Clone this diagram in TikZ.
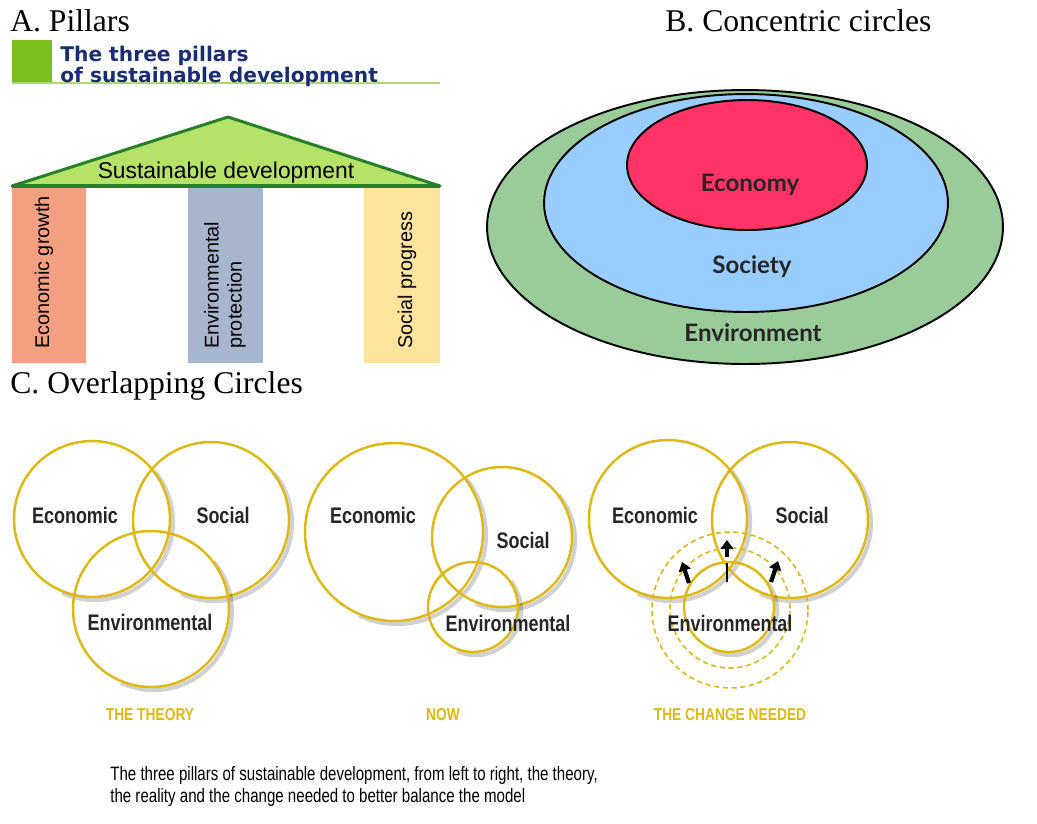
\documentclass[tikz,border=0pt]{standalone}
\usepackage{fontspec}
\setmainfont{Liberation Serif}
\newfontfamily\arialfont{Liberation Sans}
\newfontfamily\narrowfont[FakeStretch=0.8]{Liberation Sans}
\newfontfamily\captfont[FakeStretch=0.78]{Liberation Sans}
\newfontfamily\titlefont{DejaVu Sans}
\newfontfamily\latofont{Lato}
\usetikzlibrary{arrows.meta,positioning}

\definecolor{ringgold}{RGB}{222,184,20}
\definecolor{titlenavy}{RGB}{25,45,115}
\definecolor{titlegreen}{RGB}{122,190,30}
\definecolor{lightline}{RGB}{175,218,115}
\definecolor{rooffill}{RGB}{182,226,104}
\definecolor{roofedge}{RGB}{38,128,42}
\definecolor{econpillar}{RGB}{243,160,130}
\definecolor{envpillar}{RGB}{168,181,206}
\definecolor{socpillar}{RGB}{253,228,156}
\definecolor{envgreen}{RGB}{153,204,153}
\definecolor{socblue}{RGB}{153,204,255}
\definecolor{econred}{RGB}{255,51,102}

\begin{document}
\begin{tikzpicture}[x=0.02cm,y=-0.02cm,
	heading/.style={anchor=base west,inner sep=0pt,font=\fontsize{18}{20}\selectfont},
	titleblock/.style={anchor=north west,align=left,inner sep=0pt,text=titlenavy,font=\titlefont\bfseries\fontsize{11.5}{10.8}\selectfont},
	pillartext/.style={rotate=90,anchor=west,align=left,inner sep=0pt,font=\arialfont\fontsize{11.3}{13}\selectfont},
	ovaltext/.style={inner sep=0pt,font=\latofont\bfseries\fontsize{13.7}{15}\selectfont,text=black!85},
	ring/.style={draw=ringgold,line width=1.4pt},
	dashring/.style={draw=ringgold,line width=0.9pt,dash pattern=on 3pt off 2pt},
	ringshadow/.style={draw=black,opacity=0.18,line width=2.4pt},
	venntext/.style={inner sep=0pt,font=\narrowfont\bfseries\fontsize{12.8}{14}\selectfont,text=black!85},
	venntitle/.style={inner sep=0pt,font=\narrowfont\bfseries\fontsize{9.8}{11}\selectfont,text=ringgold},
	captline/.style={anchor=base west,inner sep=0pt,font=\captfont\fontsize{11}{13}\selectfont},
	blockarrow/.style={line width=2.4pt,-{Triangle[length=5pt,width=7pt]}}
	]
	\useasboundingbox (0,0) rectangle (1037,823);

	% headings
	\node[heading] (headA) at (10,31) {A. Pillars};
	\node[heading] (headB) at (665,31) {B. Concentric circles};
	\node[heading] (headC) at (10,393) {C. Overlapping Circles};

	% A: pillars
	\fill[titlegreen] (12,40) rectangle (52,83);
	\draw[lightline,line width=1.2pt] (12,83) -- (440,83);
	\node[titleblock] (title) at (60,45.5) {The three pillars\\of sustainable development};

	\fill[econpillar] (12,187) rectangle (86,363);
	\fill[envpillar] (188,187) rectangle (263,363);
	\fill[socpillar] (364,187) rectangle (440,363);
	\draw[roofedge,fill=rooffill,line width=1.7pt,line join=round] (12,186) -- (228,117) -- (440,186) -- cycle;
	\draw[roofedge,line width=2.8pt] (12,186) -- (440,186);
	\node[inner sep=0pt,anchor=base,font=\arialfont\fontsize{13}{14}\selectfont] (roof) at (226,178) {Sustainable development};
	\node[pillartext] (econgrowth) at (44,349) {Economic growth};
	\node[pillartext] (envprot) at (225,349) {Environmental\\protection};
	\node[pillartext] (socprog) at (407,349) {Social progress};

	% B: concentric ovals
	\draw[fill=envgreen,line width=1.1pt] (745,227) ellipse[x radius=5.16cm,y radius=2.74cm];
	\draw[fill=socblue,line width=1.1pt] (746,203) ellipse[x radius=4.04cm,y radius=2.18cm];
	\draw[fill=econred,line width=1.1pt] (747,165) ellipse[x radius=2.40cm,y radius=1.30cm];
	\node[ovaltext] (economy) at (750,185) {Economy};
	\node[ovaltext] (society) at (752,267) {Society};
	\node[ovaltext] (environment) at (753,333) {Environment};

	% C: overlapping circles
	\foreach \cx/\cy/\r in {92/519/1.56,211/520/1.56,151/609/1.56,
		394/532/1.78,502/537/1.40,473/607/0.90,
		668/519/1.58,790/520/1.56,729/607/0.90}{
		\draw[ringshadow] (\cx+3,\cy+3) ++(-115:\r cm) arc[start angle=-115,end angle=40,radius=\r cm];
		\draw[ring] (\cx,\cy) circle[radius=\r cm];
	}
	\draw[dashring] (730,608) circle[radius=1.20cm];
	\draw[dashring] (730,610) circle[radius=1.56cm];

	\node[venntext] (theco) at (75,515) {Economic};
	\node[venntext] (thsoc) at (223,515) {Social};
	\node[venntext] (thenv) at (150,622) {Environmental};
	\node[venntitle] (theory) at (150,715) {THE THEORY};

	\node[venntext] (nweco) at (373,515) {Economic};
	\node[venntext] (nwsoc) at (523,540) {Social};
	\node[venntext] (nwenv) at (508,623) {Environmental};
	\node[venntitle] (now) at (443,715) {NOW};

	\node[venntext] (checo) at (655,515) {Economic};
	\node[venntext] (chsoc) at (802,515) {Social};
	\node[venntext] (chenv) at (730,623) {Environmental};
	\node[venntitle] (change) at (730,715) {THE CHANGE NEEDED};

	% arrows of the change
	\coordinate (upfoot) at (727,557);
	\coordinate (uphead) at (727,540);
	\coordinate (barhi) at (727,563);
	\coordinate (barlo) at (727,582);
	\coordinate (lfoot) at (689,583);
	\coordinate (lhead) at (682,562);
	\coordinate (rfoot) at (771,582);
	\coordinate (rhead) at (778,561);
	\draw[blockarrow] (upfoot) -- (uphead);
	\draw[blockarrow] (lfoot) -- (lhead);
	\draw[blockarrow] (rfoot) -- (rhead);
	\draw[line width=1pt] (barhi) -- (barlo);

	% caption
	\node[captline] (capt1) at (110,780) {The three pillars of sustainable development, from left to right, the theory,};
	\node[captline] (capt2) at (110,802) {the reality and the change needed to better balance the model};
\end{tikzpicture}
\end{document}
